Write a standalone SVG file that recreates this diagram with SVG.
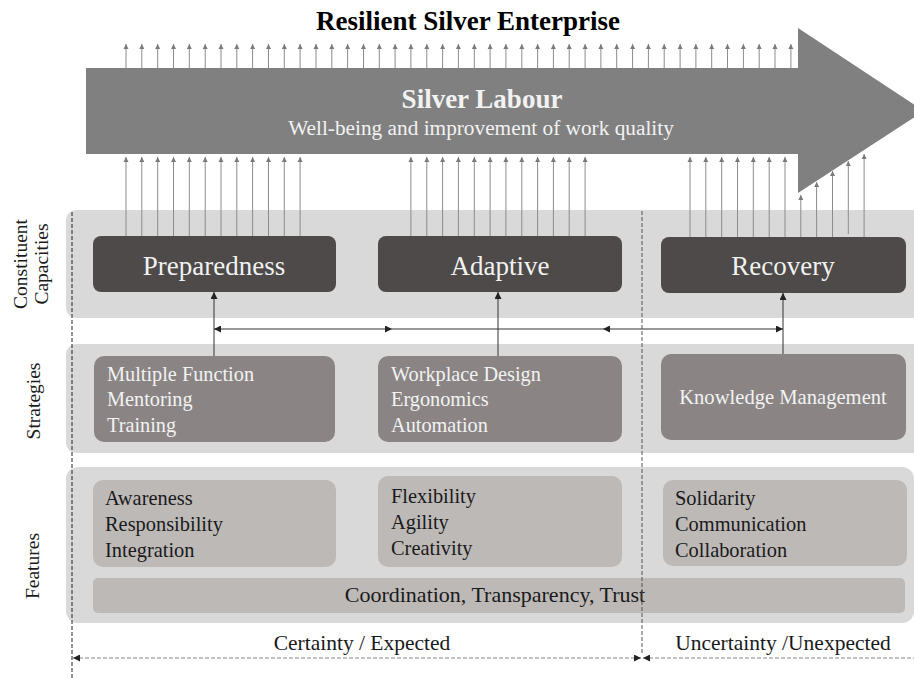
<svg xmlns="http://www.w3.org/2000/svg" width="914" height="679" viewBox="0 0 914 679">
  <defs>
    <style>
      .t { font-family: "Liberation Serif", "Times New Roman", serif; }
      .band { fill: #d9d9d9; }
      .cap { fill: #4d4a49; }
      .strat { fill: #8a8584; }
      .feat { fill: #bdb9b7; }
      .light { fill: #f2f2f2; }
      .dark { fill: #1a1a1a; }
      .up { stroke: #8c8c8c; stroke-width: 1; marker-end: url(#tip); }
      .link { stroke: #333; stroke-width: 1; fill: none; }
    </style>
    <marker id="tip" viewBox="0 0 6 6" refX="6" refY="3" markerWidth="5" markerHeight="6" markerUnits="userSpaceOnUse" orient="auto">
      <path d="M0,0 L6,3 L0,6 z" fill="#7a7a7a"/>
    </marker>
    <marker id="blk" viewBox="0 0 8 8" refX="8" refY="4" markerWidth="7" markerHeight="7" markerUnits="userSpaceOnUse" orient="auto">
      <path d="M0,0 L8,4 L0,8 z" fill="#222"/>
    </marker>
    <marker id="blkS" viewBox="0 0 8 8" refX="0" refY="4" markerWidth="7" markerHeight="7" markerUnits="userSpaceOnUse" orient="auto">
      <path d="M8,0 L0,4 L8,8 z" fill="#222"/>
    </marker>
  </defs>

  <!-- title -->
  <text class="t" x="468" y="30" font-size="27" font-weight="bold" text-anchor="middle" fill="#000">Resilient Silver Enterprise</text>

  <!-- background bands -->
  <g id="bands">
    <path class="band" d="M76,210 H914 V318 H76 a10,10 0 0 1 -10,-10 V220 a10,10 0 0 1 10,-10 z"/>
    <path class="band" d="M76,344 H914 V453 H76 a10,10 0 0 1 -10,-10 V354 a10,10 0 0 1 10,-10 z"/>
    <rect class="band" x="66" y="467" width="848" height="156" rx="12"/>
  </g>

  <!-- Silver Labour arrow -->
  <g id="silver-labour">
    <path d="M86,68 H798 V28 L924,111 L798,193 V154 H86 z" fill="#808080"/>
    <text class="t light" x="482" y="108" font-size="27" font-weight="bold" text-anchor="middle">Silver Labour</text>
    <text class="t light" x="481" y="135" font-size="21.3" text-anchor="middle">Well-being and improvement of work quality</text>
  </g>

  <!-- outgoing arrows above the main arrow -->
  <g id="outflow">
    <line class="up" x1="126" y1="68" x2="126" y2="44"/>
    <line class="up" x1="141.8" y1="68" x2="141.8" y2="44"/>
    <line class="up" x1="157.7" y1="68" x2="157.7" y2="44"/>
    <line class="up" x1="173.5" y1="68" x2="173.5" y2="44"/>
    <line class="up" x1="189.3" y1="68" x2="189.3" y2="44"/>
    <line class="up" x1="205.2" y1="68" x2="205.2" y2="44"/>
    <line class="up" x1="221" y1="68" x2="221" y2="44"/>
    <line class="up" x1="236.8" y1="68" x2="236.8" y2="44"/>
    <line class="up" x1="252.6" y1="68" x2="252.6" y2="44"/>
    <line class="up" x1="268.5" y1="68" x2="268.5" y2="44"/>
    <line class="up" x1="284.3" y1="68" x2="284.3" y2="44"/>
    <line class="up" x1="300.1" y1="68" x2="300.1" y2="44"/>
    <line class="up" x1="316" y1="68" x2="316" y2="44"/>
    <line class="up" x1="331.8" y1="68" x2="331.8" y2="44"/>
    <line class="up" x1="347.6" y1="68" x2="347.6" y2="44"/>
    <line class="up" x1="363.5" y1="68" x2="363.5" y2="44"/>
    <line class="up" x1="379.3" y1="68" x2="379.3" y2="44"/>
    <line class="up" x1="395.1" y1="68" x2="395.1" y2="44"/>
    <line class="up" x1="410.9" y1="68" x2="410.9" y2="44"/>
    <line class="up" x1="426.8" y1="68" x2="426.8" y2="44"/>
    <line class="up" x1="442.6" y1="68" x2="442.6" y2="44"/>
    <line class="up" x1="458.4" y1="68" x2="458.4" y2="44"/>
    <line class="up" x1="474.3" y1="68" x2="474.3" y2="44"/>
    <line class="up" x1="490.1" y1="68" x2="490.1" y2="44"/>
    <line class="up" x1="505.9" y1="68" x2="505.9" y2="44"/>
    <line class="up" x1="521.8" y1="68" x2="521.8" y2="44"/>
    <line class="up" x1="537.6" y1="68" x2="537.6" y2="44"/>
    <line class="up" x1="553.4" y1="68" x2="553.4" y2="44"/>
    <line class="up" x1="569.2" y1="68" x2="569.2" y2="44"/>
    <line class="up" x1="585.1" y1="68" x2="585.1" y2="44"/>
    <line class="up" x1="600.9" y1="68" x2="600.9" y2="44"/>
    <line class="up" x1="616.7" y1="68" x2="616.7" y2="44"/>
    <line class="up" x1="632.6" y1="68" x2="632.6" y2="44"/>
    <line class="up" x1="648.4" y1="68" x2="648.4" y2="44"/>
    <line class="up" x1="664.2" y1="68" x2="664.2" y2="44"/>
    <line class="up" x1="680.1" y1="68" x2="680.1" y2="44"/>
    <line class="up" x1="695.9" y1="68" x2="695.9" y2="44"/>
    <line class="up" x1="711.7" y1="68" x2="711.7" y2="44"/>
    <line class="up" x1="727.5" y1="68" x2="727.5" y2="44"/>
    <line class="up" x1="743.4" y1="68" x2="743.4" y2="44"/>
    <line class="up" x1="759.2" y1="68" x2="759.2" y2="44"/>
    <line class="up" x1="775" y1="68" x2="775" y2="44"/>
    <line class="up" x1="790.9" y1="68" x2="790.9" y2="44"/>
  </g>

  <!-- arrows feeding the main arrow from the capacities -->
  <g id="inflow">
    <line class="up" x1="126" y1="236" x2="126" y2="157"/>
    <line class="up" x1="141.8" y1="236" x2="141.8" y2="157"/>
    <line class="up" x1="157.7" y1="236" x2="157.7" y2="157"/>
    <line class="up" x1="173.5" y1="236" x2="173.5" y2="157"/>
    <line class="up" x1="189.3" y1="236" x2="189.3" y2="157"/>
    <line class="up" x1="205.2" y1="236" x2="205.2" y2="157"/>
    <line class="up" x1="221" y1="236" x2="221" y2="157"/>
    <line class="up" x1="236.8" y1="236" x2="236.8" y2="157"/>
    <line class="up" x1="252.6" y1="236" x2="252.6" y2="157"/>
    <line class="up" x1="268.5" y1="236" x2="268.5" y2="157"/>
    <line class="up" x1="284.3" y1="236" x2="284.3" y2="157"/>
    <line class="up" x1="300.1" y1="236" x2="300.1" y2="157"/>

    <line class="up" x1="410.9" y1="236" x2="410.9" y2="157"/>
    <line class="up" x1="426.8" y1="236" x2="426.8" y2="157"/>
    <line class="up" x1="442.6" y1="236" x2="442.6" y2="157"/>
    <line class="up" x1="458.4" y1="236" x2="458.4" y2="157"/>
    <line class="up" x1="474.3" y1="236" x2="474.3" y2="157"/>
    <line class="up" x1="490.1" y1="236" x2="490.1" y2="157"/>
    <line class="up" x1="505.9" y1="236" x2="505.9" y2="157"/>
    <line class="up" x1="521.8" y1="236" x2="521.8" y2="157"/>
    <line class="up" x1="537.6" y1="236" x2="537.6" y2="157"/>
    <line class="up" x1="553.4" y1="236" x2="553.4" y2="157"/>
    <line class="up" x1="569.2" y1="236" x2="569.2" y2="157"/>
    <line class="up" x1="585.1" y1="236" x2="585.1" y2="157"/>

    <line class="up" x1="690" y1="237" x2="690" y2="157"/>
    <line class="up" x1="705.8" y1="237" x2="705.8" y2="157"/>
    <line class="up" x1="721.7" y1="237" x2="721.7" y2="157"/>
    <line class="up" x1="737.5" y1="237" x2="737.5" y2="157"/>
    <line class="up" x1="753.3" y1="237" x2="753.3" y2="157"/>
    <line class="up" x1="769.2" y1="237" x2="769.2" y2="157"/>
    <line class="up" x1="785" y1="237" x2="785" y2="157"/>
    <line class="up" x1="800.8" y1="237" x2="800.8" y2="195"/>
    <line class="up" x1="816.6" y1="237" x2="816.6" y2="182"/>
    <line class="up" x1="832.5" y1="237" x2="832.5" y2="171"/>
    <line class="up" x1="848.3" y1="234" x2="848.3" y2="161"/>
    <line class="up" x1="864.1" y1="237" x2="864.1" y2="154"/>
  </g>

  <!-- row labels -->
  <g id="row-labels" class="t dark" font-size="19.5" text-anchor="middle">
    <text transform="translate(27,264) rotate(-90)">Constituent</text>
    <text transform="translate(48,264) rotate(-90)">Capacities</text>
    <text transform="translate(40,401) rotate(-90)">Strategies</text>
    <text transform="translate(39,566) rotate(-90)">Features</text>
  </g>

  <!-- constituent capacities -->
  <g id="preparedness">
    <rect class="cap" x="93" y="236" width="243" height="56" rx="8"/>
    <text class="t light" x="214" y="275" font-size="27" text-anchor="middle">Preparedness</text>
  </g>
  <g id="adaptive">
    <rect class="cap" x="378" y="236" width="244" height="56" rx="8"/>
    <text class="t light" x="500" y="275" font-size="27" text-anchor="middle">Adaptive</text>
  </g>
  <g id="recovery">
    <rect class="cap" x="661" y="237" width="245" height="56" rx="8"/>
    <text class="t light" x="783" y="275" font-size="27" text-anchor="middle">Recovery</text>
  </g>

  <!-- strategies -->
  <g id="strategy-preparedness">
    <rect class="strat" x="94" y="356" width="241" height="86" rx="10"/>
    <text class="t light" font-size="20.3">
      <tspan x="107" y="381">Multiple Function</tspan>
      <tspan x="107" y="406">Mentoring</tspan>
      <tspan x="107" y="432">Training</tspan>
    </text>
  </g>
  <g id="strategy-adaptive">
    <rect class="strat" x="378" y="356" width="244" height="86" rx="10"/>
    <text class="t light" font-size="20.3">
      <tspan x="391" y="381">Workplace Design</tspan>
      <tspan x="391" y="406">Ergonomics</tspan>
      <tspan x="391" y="432">Automation</tspan>
    </text>
  </g>
  <g id="strategy-recovery">
    <rect class="strat" x="661" y="354" width="245" height="86" rx="10"/>
    <text class="t light" x="783" y="404" font-size="20.6" text-anchor="middle">Knowledge Management</text>
  </g>

  <!-- features -->
  <g id="features-preparedness">
    <rect class="feat" x="93" y="480" width="243" height="87" rx="10"/>
    <text class="t dark" font-size="20.4">
      <tspan x="105" y="505">Awareness</tspan>
      <tspan x="105" y="531">Responsibility</tspan>
      <tspan x="105" y="557">Integration</tspan>
    </text>
  </g>
  <g id="features-adaptive">
    <rect class="feat" x="378" y="476" width="244" height="91" rx="10"/>
    <text class="t dark" font-size="20.4">
      <tspan x="391" y="503">Flexibility</tspan>
      <tspan x="391" y="529">Agility</tspan>
      <tspan x="391" y="555">Creativity</tspan>
    </text>
  </g>
  <g id="features-recovery">
    <rect class="feat" x="663" y="480" width="244" height="86" rx="10"/>
    <text class="t dark" font-size="20.4">
      <tspan x="675" y="505">Solidarity</tspan>
      <tspan x="675" y="531">Communication</tspan>
      <tspan x="675" y="557">Collaboration</tspan>
    </text>
  </g>
  <g id="features-common">
    <rect class="feat" x="93" y="578" width="812" height="35" rx="5"/>
    <text class="t dark" x="495" y="602" font-size="22" text-anchor="middle">Coordination, Transparency, Trust</text>
  </g>

  <!-- connectors between strategies and capacities -->
  <g id="connectors">
    <line class="link" x1="214" y1="356" x2="214" y2="292" marker-end="url(#blk)"/>
    <line class="link" x1="498" y1="356" x2="498" y2="292" marker-end="url(#blk)"/>
    <line class="link" x1="783" y1="354" x2="783" y2="293" marker-end="url(#blk)"/>
    <line class="link" x1="392" y1="329" x2="603" y2="329"/>
    <line class="link" x1="214" y1="329" x2="392" y2="329" marker-start="url(#blkS)" marker-end="url(#blk)"/>
    <line class="link" x1="603" y1="329" x2="783" y2="329" marker-start="url(#blkS)" marker-end="url(#blk)"/>
  </g>

  <!-- certainty / uncertainty divisions -->
  <g id="divisions">
    <line x1="72" y1="212" x2="72" y2="679" stroke="#222" stroke-width="1" stroke-dasharray="4,2"/>
    <line x1="642" y1="211" x2="642" y2="655" stroke="#555" stroke-width="1" stroke-dasharray="4,2"/>
    <line x1="73" y1="658" x2="641" y2="658" stroke="#888" stroke-width="1" stroke-dasharray="4,2" marker-start="url(#blkS)" marker-end="url(#blk)"/>
    <line x1="643" y1="658" x2="914" y2="658" stroke="#888" stroke-width="1" stroke-dasharray="4,2" marker-start="url(#blkS)"/>
    <text class="t dark" x="362" y="650" font-size="21.5" text-anchor="middle">Certainty / Expected</text>
    <text class="t dark" x="783" y="650" font-size="21.5" text-anchor="middle">Uncertainty /Unexpected</text>
  </g>
</svg>
